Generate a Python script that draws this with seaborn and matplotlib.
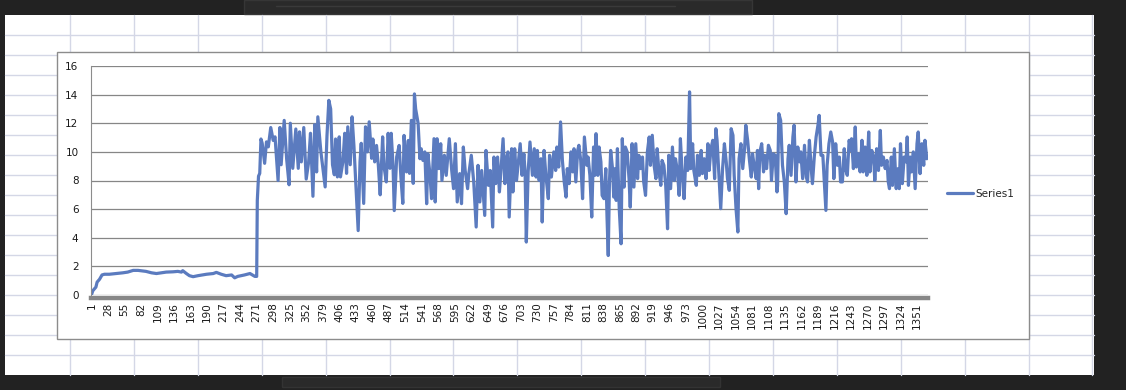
import matplotlib
matplotlib.use("Agg")
import matplotlib.pyplot as plt
from matplotlib.patches import Rectangle
from matplotlib.lines import Line2D
import seaborn as sns
import pandas as pd

# ---------------- data ----------------
ramp_idx = [1, 3, 8, 10, 14, 18, 22, 30, 41, 52, 60, 69, 77, 85, 90, 99, 107, 115, 123, 134,
            142, 148, 150, 156, 161, 167, 175, 189, 200, 205, 213, 221, 230, 235, 240, 251,
            260, 264, 268, 271, 272, 274, 276]
ramp_val = [0.05, 0.3, 0.55, 0.9, 1.1, 1.4, 1.45, 1.45, 1.5, 1.55, 1.6, 1.72, 1.72, 1.68, 1.65,
            1.55, 1.5, 1.55, 1.6, 1.62, 1.65, 1.6, 1.7, 1.5, 1.35, 1.28, 1.35, 1.45, 1.5, 1.58,
            1.45, 1.35, 1.4, 1.2, 1.3, 1.4, 1.5, 1.4, 1.3, 1.3, 6.6, 8.3, 8.5]

part1_idx = [278, 280, 284, 287, 290, 294, 298, 301, 306, 309, 311, 316, 320, 324, 326, 330, 335,
             339, 341, 344, 348, 352, 356, 359, 363, 366, 369, 371, 376, 380, 383, 386, 389, 392,
             395, 398, 400, 403, 406, 408, 412, 415, 418, 420, 424, 427, 430, 433, 437, 440, 442,
             446, 449, 452, 455, 459, 461, 464, 467, 470, 473, 477, 479, 483, 486, 489, 491, 494,
             496, 500, 504, 507, 510, 512, 516, 519, 521, 524, 527, 529, 531, 535]
part1_val = [10.9, 10.6, 9.2, 10.7, 10.35, 11.7, 10.8, 11.05, 8.0, 11.7, 9.1, 12.2, 9.5, 7.7, 12.0,
             8.85, 11.6, 8.85, 11.4, 9.3, 11.7, 8.1, 9.3, 11.3, 6.9, 11.9, 8.6, 12.45, 10.0, 8.6,
             7.55, 11.15, 13.6, 13.0, 9.1, 8.4, 10.9, 8.25, 11.05, 8.25, 9.3, 11.3, 8.5, 11.75, 9.1,
             12.45, 10.45, 7.9, 4.5, 9.3, 10.6, 6.4, 11.75, 10.0, 12.1, 9.55, 10.9, 9.3, 10.45,
             9.05, 7.0, 11.05, 9.05, 7.9, 11.3, 8.85, 11.3, 9.05, 5.9, 9.65, 10.45, 8.15, 6.4,
             11.15, 8.6, 10.8, 8.5, 12.2, 7.8, 14.05, 13.0, 12.0]

part2_idx = [538, 540, 543, 546, 549, 551, 554, 557, 561, 563, 566, 569, 572, 574, 578, 581, 586,
             590, 593, 596, 599, 603, 606, 609, 612, 616, 618, 622, 626, 630, 633, 636, 639, 641,
             644, 646, 650, 653, 657, 659, 662, 665, 668, 670, 674, 677, 680, 682, 684, 688, 690,
             693, 696, 699, 702, 705, 708, 710, 712, 715, 718, 722, 725, 728, 730, 733, 736, 738,
             741, 744, 748, 750, 753, 757, 760, 762, 765, 768, 771, 774, 777, 779, 782, 785, 788,
             790, 793, 796, 798, 801, 804, 807]
part2_val = [9.52, 10.22, 9.4, 10.0, 6.38, 9.87, 8.6, 6.73, 10.92, 6.5, 10.92, 8.83, 10.57, 8.0,
             9.76, 8.36, 10.92, 8.7, 7.43, 10.57, 6.5, 8.48, 6.38, 10.34, 8.7, 7.43, 8.48, 9.76,
             7.9, 4.75, 9.06, 6.5, 8.7, 7.43, 5.56, 10.1, 7.66, 8.7, 4.75, 9.64, 7.78, 9.64, 7.2,
             8.36, 10.92, 7.78, 9.64, 10.0, 5.45, 10.22, 7.2, 10.22, 8.0, 9.3, 10.57, 8.36, 9.87,
             8.6, 3.7, 8.6, 10.69, 8.36, 10.22, 8.24, 10.1, 8.0, 9.52, 5.1, 10.1, 8.36, 6.73, 9.76,
             8.24, 10.0, 8.7, 10.34, 8.94, 12.09, 9.4, 7.9, 6.84, 8.83, 7.78, 10.0, 8.6, 10.22,
             7.9, 10.1, 10.46, 9.4, 6.73, 11.04]

part3_idx = [811, 813, 816, 819, 822, 824, 826, 829, 831, 834, 836, 839, 842, 844, 846, 848, 850,
             853, 855, 857, 859, 861, 864, 867, 869, 872, 874, 877, 880, 882, 885, 888, 891, 894,
             896, 899, 902, 904, 907, 910, 913, 915, 918, 921, 924, 926, 929, 932, 934, 937, 940,
             943, 945, 948, 951, 954, 956, 959, 962, 964, 967, 970, 973, 976, 979, 981, 984, 986,
             990, 992, 995, 998, 1000, 1003, 1006, 1009, 1011, 1014, 1017, 1020, 1022, 1024, 1027,
             1030, 1033, 1036, 1039, 1041, 1044, 1047, 1050, 1052, 1055, 1058, 1060, 1063, 1066,
             1069, 1071, 1074, 1077, 1080, 1082, 1085, 1088, 1090]
part3_val = [9.06, 9.64, 8.36, 5.45, 10.34, 8.36, 11.27, 8.36, 10.34, 9.3, 6.96, 6.73, 8.83, 5.45,
             2.76, 7.9, 10.1, 8.83, 6.84, 8.83, 6.61, 10.22, 6.03, 3.58, 10.92, 7.54, 10.34, 10.0,
             8.13, 6.14, 10.57, 7.54, 10.57, 8.13, 9.76, 8.83, 9.64, 7.9, 6.96, 10.0, 11.04, 9.06,
             11.16, 9.06, 8.13, 10.22, 8.6, 7.66, 9.4, 9.06, 7.66, 4.63, 9.76, 7.43, 10.34, 8.0,
             9.52, 8.7, 6.96, 10.92, 8.48, 6.73, 9.64, 8.7, 14.19, 8.83, 10.57, 8.7, 7.66, 9.76,
             8.36, 10.1, 8.48, 9.52, 8.13, 10.57, 8.7, 10.22, 10.81, 8.13, 11.62, 10.81, 8.36, 6.03,
             8.83, 10.57, 9.3, 8.13, 7.31, 11.62, 11.16, 8.36, 6.03, 4.4, 9.52, 10.57, 8.83, 10.22,
             11.86, 10.81, 9.4, 8.24, 9.87, 8.94, 8.13, 10.1]

part4_idx = [1092, 1094, 1097, 1100, 1102, 1105, 1108, 1111, 1113, 1116, 1119, 1122, 1123, 1125,
             1128, 1131, 1134, 1137, 1140, 1142, 1145, 1148, 1150, 1153, 1156, 1159, 1161, 1164,
             1167, 1170, 1172, 1175, 1178, 1180, 1183, 1186, 1189, 1191, 1194, 1197, 1200, 1202,
             1204, 1207, 1210, 1213, 1215, 1218, 1221, 1224, 1226, 1229, 1232, 1234, 1237, 1240,
             1243, 1244, 1247, 1250, 1252, 1255, 1258, 1261, 1263, 1266, 1269, 1272, 1274, 1277,
             1280, 1282, 1285, 1288, 1291, 1293, 1296, 1299, 1302, 1304, 1306, 1309, 1311, 1314,
             1317, 1320, 1322, 1324, 1327, 1330, 1333, 1335, 1337, 1340, 1342, 1345, 1348, 1351,
             1353, 1356, 1359, 1362, 1364, 1367]
part4_val = [7.43, 10.0, 10.57, 8.6, 9.76, 8.83, 10.46, 10.1, 8.0, 9.87, 9.76, 7.2, 7.66, 12.67,
             12.2, 9.06, 7.9, 5.68, 9.52, 10.46, 8.36, 11.04, 11.86, 7.9, 10.34, 9.3, 10.0, 8.13,
             10.46, 8.24, 7.9, 10.81, 8.83, 7.78, 9.64, 11.04, 11.86, 12.55, 9.76, 9.76, 7.43, 5.91,
             9.06, 10.57, 11.39, 10.69, 8.13, 10.57, 9.06, 9.64, 7.9, 7.9, 10.22, 8.83, 8.36, 10.81,
             10.1, 10.92, 8.83, 11.74, 8.94, 9.87, 8.6, 10.81, 8.6, 10.34, 8.36, 11.39, 8.6, 10.1,
             9.64, 8.0, 10.22, 8.7, 11.5, 9.06, 9.64, 8.83, 9.4, 7.9, 7.43, 9.64, 7.66, 10.22, 7.43,
             8.83, 7.43, 10.57, 7.78, 9.64, 9.3, 11.04, 7.66, 9.64, 8.6, 10.0, 7.43, 10.57, 11.39,
             8.48, 10.57, 9.06, 10.81, 9.52]

x_tick_labels = [1, 28, 55, 82, 109, 136, 163, 190, 217, 244, 271, 298, 325, 352, 379, 406, 433,
                 460, 487, 514, 541, 568, 595, 622, 649, 676, 703, 730, 757, 784, 811, 838, 865,
                 892, 919, 946, 973, 1000, 1027, 1054, 1081, 1108, 1135, 1162, 1189, 1216, 1243,
                 1270, 1297, 1324, 1351]
y_ticks = [0, 2, 4, 6, 8, 10, 12, 14, 16]
series_name = "Series1"

df = pd.DataFrame({
    "idx": ramp_idx + part1_idx + part2_idx + part3_idx + part4_idx,
    "val": ramp_val + part1_val + part2_val + part3_val + part4_val,
})

# ---------------- figure ----------------
W, H = 1126, 390
sns.set_theme(style="white")
plt.rcParams["font.family"] = ["DejaVu Sans"]

fig = plt.figure(figsize=(W / 100, H / 100), dpi=100)
fig.patch.set_facecolor("#222222")


def fx(x):
    return x / W


def fy(y):
    return 1 - y / H


def rect(x0, y0, x1, y1, **kw):
    r = Rectangle((fx(x0), fy(y1)), fx(x1) - fx(x0), fy(y0) - fy(y1),
                  transform=fig.transFigure, **kw)
    fig.add_artist(r)
    return r


def line(x0, y0, x1, y1, **kw):
    l = Line2D([fx(x0), fx(x1)], [fy(y0), fy(y1)], transform=fig.transFigure, **kw)
    fig.add_artist(l)
    return l


# spreadsheet background
rect(5, 15, 1094, 375, facecolor="white", edgecolor="none", zorder=0)
grid_c = "#d4d7e6"
for k in range(17):
    xv = 70 + 63.9 * k
    line(xv, 15, xv, 375, color=grid_c, lw=1, zorder=0.1)
for k in range(17):
    yv = 35 + 20 * k
    line(5, yv, 1094, yv, color=grid_c, lw=1, zorder=0.1)
# faint UI pieces in the dark margins
rect(244, 0, 752, 14, facecolor="#2a2a2a", edgecolor="#363636", lw=1, zorder=0)
line(276, 6, 675, 6, color="#3a3a3a", lw=1, zorder=0.1)
rect(282, 377, 720, 387, facecolor="#2a2a2a", edgecolor="#333333", lw=1, zorder=0)

# chart box
rect(57, 52, 1029, 339, facecolor="white", edgecolor="#8c8c8c", lw=1, zorder=0.5)

# plot area
ax = fig.add_axes([fx(91), fy(295), fx(928) - fx(91), fy(66) - fy(295)])
ax.set_facecolor("white")
ax.set_zorder(1)

# spines first (set_position resets tick label styling)
for s in ["top", "right"]:
    ax.spines[s].set_visible(False)
ax.spines["left"].set_color("#8c8c8c")
ax.spines["left"].set_linewidth(0.8)
ax.spines["bottom"].set_color("#878787")
ax.spines["bottom"].set_linewidth(3.2)
ax.spines["bottom"].set_position(("outward", 1.8))

line_c = "#5b7bbf"
sns.lineplot(data=df, x="idx", y="val", ax=ax, color=line_c, linewidth=2.3,
             label=series_name, sort=True, estimator=None)
for l in ax.get_lines():
    l.set_solid_joinstyle("round")
    l.set_solid_capstyle("round")

ax.set_xlim(0, 1369)
ax.set_ylim(0, 16)
ax.set_yticks(y_ticks)
ax.set_yticklabels([str(v) for v in y_ticks], fontsize=7.5, color="#1a1a1a")
ax.set_xticks(x_tick_labels)
ax.set_xticklabels([str(v) for v in x_tick_labels], rotation=90, fontsize=7.5,
                   color="#1a1a1a", ha="center", va="top")
ax.tick_params(axis="x", length=0, pad=3.5)
ax.tick_params(axis="y", length=0, pad=9)
ax.set_xlabel("")
ax.set_ylabel("")

ax.grid(axis="y", color="#868686", linewidth=0.9)
ax.grid(axis="x", visible=False)
ax.set_axisbelow(True)

# legend outside the plot area
ax.legend(loc="center left", bbox_to_anchor=(fx(947), fy(194)),
          bbox_transform=fig.transFigure, frameon=False, fontsize=7.5,
          handlelength=2.5, handletextpad=0.2, borderpad=0, borderaxespad=0)

fig.savefig("out.png", dpi=100, facecolor=fig.get_facecolor())
